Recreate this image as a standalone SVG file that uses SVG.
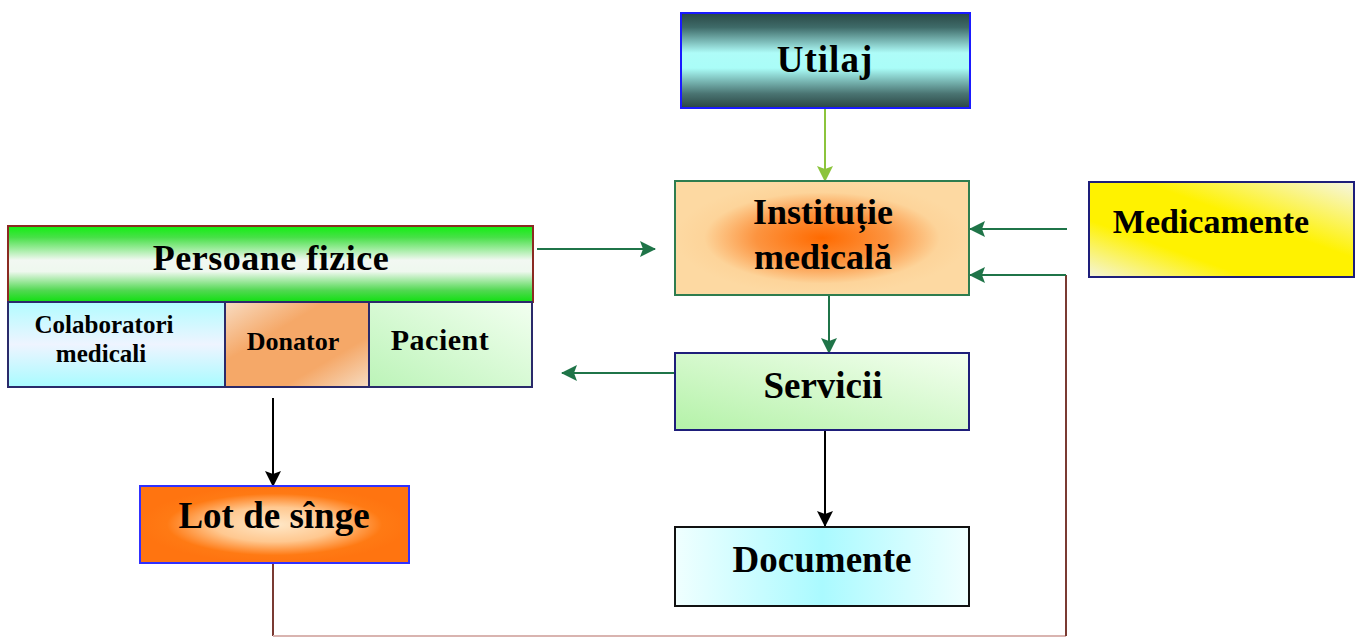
<svg xmlns="http://www.w3.org/2000/svg" width="1357" height="639" viewBox="0 0 1357 639">
<style>
text{font-family:"Liberation Serif","Times New Roman",serif;font-weight:bold;fill:#000;text-anchor:middle}
.g{stroke:#1f7448;stroke-width:2;fill:none}
.k{stroke:#000;stroke-width:2;fill:none}
.br{stroke:#7a3a32;stroke-width:2;fill:none}
</style>
<defs>
<marker id="ag" markerUnits="userSpaceOnUse" markerWidth="16" markerHeight="16" refX="15" refY="8" orient="auto"><path d="M0,0 L16,8 L0,16 L3,8 z" fill="#1f7448"/></marker>
<marker id="al" markerUnits="userSpaceOnUse" markerWidth="16" markerHeight="16" refX="15" refY="8" orient="auto"><path d="M0,0 L16,8 L0,16 L3,8 z" fill="#8cc43c"/></marker>
<marker id="ak" markerUnits="userSpaceOnUse" markerWidth="16" markerHeight="16" refX="15" refY="8" orient="auto"><path d="M0,0 L16,8 L0,16 L3,8 z" fill="#000"/></marker>
<linearGradient id="gUt" x1="0" y1="0" x2="0" y2="1">
<stop offset="0" stop-color="#2a4846"/><stop offset="0.15" stop-color="#3e6a68"/><stop offset="0.42" stop-color="#aefcf8"/><stop offset="0.58" stop-color="#aafdf8"/><stop offset="0.85" stop-color="#4a7472"/><stop offset="1" stop-color="#2a4644"/>
</linearGradient>
<radialGradient id="gIn" cx="0.5" cy="0.5" r="0.5">
<stop offset="0" stop-color="#ff6a00"/><stop offset="0.45" stop-color="#fc9440"/><stop offset="0.8" stop-color="#fdd49a"/><stop offset="1" stop-color="#fdd9a2"/>
</radialGradient>
<linearGradient id="gMe" x1="0" y1="1" x2="1" y2="0">
<stop offset="0" stop-color="#f4f4dc"/><stop offset="0.3" stop-color="#fff200"/><stop offset="0.6" stop-color="#fff200"/><stop offset="1" stop-color="#f6f6e4"/>
</linearGradient>
<linearGradient id="gPe" x1="0" y1="0" x2="0" y2="1">
<stop offset="0" stop-color="#10f010"/><stop offset="0.15" stop-color="#48e048"/><stop offset="0.45" stop-color="#f2f8f2"/><stop offset="0.6" stop-color="#eef8ee"/><stop offset="0.85" stop-color="#50d850"/><stop offset="1" stop-color="#10e010"/>
</linearGradient>
<linearGradient id="gCo" x1="0" y1="0" x2="0" y2="1">
<stop offset="0" stop-color="#b2fcff"/><stop offset="0.5" stop-color="#eef4ff"/><stop offset="1" stop-color="#a8fbff"/>
</linearGradient>
<linearGradient id="gDo" x1="0" y1="0" x2="1" y2="1">
<stop offset="0" stop-color="#f8dcc2"/><stop offset="0.35" stop-color="#f5a868"/><stop offset="0.7" stop-color="#f5a868"/><stop offset="1" stop-color="#f6dcc2"/>
</linearGradient>
<linearGradient id="gPa" x1="0" y1="1" x2="1" y2="0">
<stop offset="0" stop-color="#bcf4b8"/><stop offset="1" stop-color="#f2fff0"/>
</linearGradient>
<linearGradient id="gSe" x1="0" y1="1" x2="1" y2="0">
<stop offset="0" stop-color="#b4f2a8"/><stop offset="1" stop-color="#f4fff0"/>
</linearGradient>
<linearGradient id="gDc" x1="0" y1="0" x2="1" y2="0">
<stop offset="0" stop-color="#f0ffff"/><stop offset="0.5" stop-color="#aafaff"/><stop offset="1" stop-color="#f0ffff"/>
</linearGradient>
<radialGradient id="gLo" cx="0.5" cy="0.5" r="0.5">
<stop offset="0" stop-color="#ffe8c8"/><stop offset="0.45" stop-color="#ffc890"/><stop offset="0.8" stop-color="#ff7a14"/><stop offset="1" stop-color="#ff7410"/>
</radialGradient>
</defs>

<g id="connectors">
<line class="g" x1="825" y1="108" x2="825" y2="181" style="stroke:#8cc43c" marker-end="url(#al)"/>
<line class="g" x1="537" y1="249" x2="655" y2="249" marker-end="url(#ag)"/>
<line class="g" x1="1067" y1="229" x2="970" y2="229" marker-end="url(#ag)"/>
<path class="br" d="M273,563 V636"/>
<path d="M273,636 H1066" stroke="#d9b4b0" stroke-width="2" fill="none"/>
<path class="br" d="M1066,636 V275"/>
<line class="g" x1="1066" y1="275" x2="970" y2="275" marker-end="url(#ag)"/>
<line class="g" x1="829" y1="295" x2="829" y2="353" marker-end="url(#ag)"/>
<line class="g" x1="675" y1="373" x2="562" y2="373" marker-end="url(#ag)"/>
<line class="k" x1="825" y1="423" x2="825" y2="526" marker-end="url(#ak)"/>
<line class="k" x1="273" y1="398" x2="273" y2="486" marker-end="url(#ak)"/>
</g>

<g id="utilaj">
<rect x="681" y="13" width="289" height="95" fill="url(#gUt)" stroke="#1a1aff" stroke-width="2"/>
<text x="825" y="72" font-size="37" letter-spacing="1">Utilaj</text>
</g>

<g id="institutie">
<rect x="675" y="181" width="294" height="114" fill="url(#gIn)" stroke="#2e7d4f" stroke-width="2"/>
<text x="823" y="224" font-size="36">Instituție</text>
<text x="823" y="269" font-size="36">medicală</text>
</g>

<g id="medicamente">
<rect x="1089" y="182" width="265" height="95" fill="url(#gMe)" stroke="#1e1e7a" stroke-width="2"/>
<text x="1211" y="233" font-size="34">Medicamente</text>
</g>

<g id="persoane">
<rect x="8" y="226" width="525" height="76" fill="url(#gPe)" stroke="#8b2a22" stroke-width="2"/>
<text x="271" y="270" font-size="36" letter-spacing="0.5">Persoane fizice</text>
</g>

<g id="colaboratori">
<rect x="8" y="302" width="217" height="85" fill="url(#gCo)" stroke="#2a2a6a" stroke-width="2"/>
<text x="104" y="333" font-size="25">Colaboratori</text>
<text x="101" y="362" font-size="25">medicali</text>
</g>

<g id="donator">
<rect x="225" y="302" width="144" height="85" fill="url(#gDo)" stroke="#2a2a6a" stroke-width="2"/>
<text x="293" y="350" font-size="26">Donator</text>
</g>

<g id="pacient">
<rect x="369" y="302" width="163" height="85" fill="url(#gPa)" stroke="#2a2a6a" stroke-width="2"/>
<text x="440" y="350" font-size="30" letter-spacing="0.5">Pacient</text>
</g>

<g id="servicii">
<rect x="675" y="353" width="294" height="77" fill="url(#gSe)" stroke="#1e1e7a" stroke-width="2"/>
<text x="823" y="398" font-size="37">Servicii</text>
</g>

<g id="documente">
<rect x="675" y="527" width="294" height="79" fill="url(#gDc)" stroke="#111" stroke-width="2"/>
<text x="822" y="572" font-size="37">Documente</text>
</g>

<g id="lot">
<rect x="140" y="486" width="269" height="77" fill="url(#gLo)" stroke="#3030ff" stroke-width="2"/>
<text x="274" y="528" font-size="37">Lot de sînge</text>
</g>
</svg>
